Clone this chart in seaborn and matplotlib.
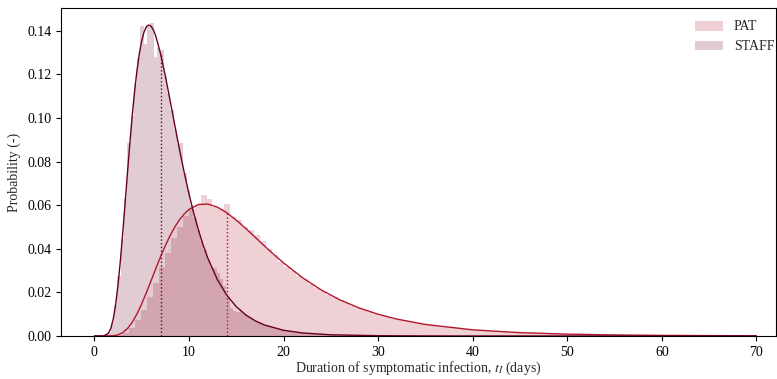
import numpy as np
import pandas as pd
import matplotlib
matplotlib.use("Agg")
import matplotlib.pyplot as plt
import seaborn as sns

# ---- data -------------------------------------------------------------
# PAT: normalised histogram of symptomatic-infection durations
pat_bin_start = 0.52
pat_bin_width = 0.63
pat_heights = [
    0.0, 0.0, 0.0001, 0.0006, 0.0016, 0.0037, 0.0073, 0.0120, 0.0180, 0.0243,
    0.0318, 0.0380, 0.0450, 0.0500, 0.0552, 0.0582, 0.0600, 0.0647, 0.0628, 0.0594,
    0.0585, 0.0606, 0.0547, 0.0532, 0.0502, 0.0486, 0.0463, 0.0435, 0.0400, 0.0372,
    0.0340, 0.0318, 0.0300, 0.0277, 0.0262, 0.0240, 0.0222, 0.0208, 0.0190, 0.0178,
    0.0163, 0.0152, 0.0139, 0.0130, 0.0119, 0.0111, 0.0101, 0.0094, 0.0087, 0.0080,
    0.0074, 0.0068, 0.0064, 0.0058, 0.0054, 0.0049, 0.0046, 0.0042, 0.0040, 0.0036,
    0.0034, 0.0031, 0.0029, 0.0027, 0.0025, 0.0023, 0.0021, 0.0019, 0.0018, 0.0016,
    0.0015, 0.0014, 0.0013, 0.0012, 0.0011, 0.0010, 0.0009, 0.0009, 0.0008, 0.0008,
    0.0007, 0.0006, 0.0006, 0.0005, 0.0005, 0.0005, 0.0004, 0.0004, 0.0004, 0.0003,
    0.0003, 0.0003, 0.0003, 0.0003, 0.0002, 0.0002, 0.0002, 0.0002, 0.0002, 0.0001,
]

# STAFF: normalised histogram of symptomatic-infection durations
staff_bin_start = 0.32
staff_bin_width = 0.35
staff_heights = [
    0.0, 0.0, 0.0003, 0.0015, 0.0060, 0.0140, 0.0275, 0.0445, 0.0630, 0.0884,
    0.1008, 0.1157, 0.1275, 0.1422, 0.1340, 0.1420, 0.1434, 0.1280, 0.1320, 0.1310,
    0.1195, 0.1117, 0.1038, 0.0950, 0.0879, 0.0885, 0.0750, 0.0670, 0.0600, 0.0542,
    0.0487, 0.0438, 0.0393, 0.0353, 0.0317, 0.0310, 0.0290, 0.0260, 0.0230, 0.0180,
    0.0130, 0.0115, 0.0110, 0.0113, 0.0101, 0.0090, 0.0081, 0.0072, 0.0064, 0.0057,
    0.0050, 0.0045, 0.0040, 0.0036, 0.0032, 0.0029, 0.0026, 0.0023, 0.0021, 0.0018,
    0.0016, 0.0015, 0.0013, 0.0012, 0.0011, 0.0010, 0.0009, 0.0008, 0.0007, 0.0006,
    0.0006, 0.0005, 0.0005, 0.0004, 0.0004, 0.0003, 0.0003, 0.0003, 0.0002, 0.0002,
    0.0002, 0.0002, 0.0002, 0.0001, 0.0001, 0.0001,
]

# fitted density curves (day, probability)
pat_curve_x = [0, 1, 2, 2.5, 3, 3.5, 4, 4.5, 5, 5.5, 6, 6.5, 7, 7.5, 8, 8.5, 9, 9.5,
               10, 11, 12, 13, 14, 15, 16, 17, 18, 19, 20, 22, 24, 26, 28, 30, 32,
               35, 40, 45, 50, 55, 60, 70]
pat_curve_y = [0.0, 0.0, 0.000125, 0.000545, 0.001561, 0.003429, 0.006279, 0.010083,
               0.014706, 0.019901, 0.025417, 0.030995, 0.036403, 0.041455, 0.046013,
               0.049988, 0.053326, 0.056011, 0.058053, 0.060334, 0.060543, 0.059133,
               0.056551, 0.053188, 0.049364, 0.045331, 0.041270, 0.037313, 0.033546,
               0.026769, 0.021104, 0.016510, 0.012856, 0.009986, 0.007750, 0.005302,
               0.002837, 0.001540, 0.000851, 0.000479, 0.000274, 0.000095]

staff_curve_x = [0, 0.5, 1, 1.5, 1.75, 2, 2.25, 2.5, 2.75, 3, 3.25, 3.5, 3.75, 4, 4.25,
                 4.5, 4.75, 5, 5.25, 5.5, 5.75, 6, 6.25, 6.5, 7, 7.5, 8, 8.5, 9, 9.5,
                 10, 10.5, 11, 11.5, 12, 13, 14, 15, 16, 17, 18, 20, 22, 25, 30, 35,
                 40, 50, 60, 70]
staff_curve_y = [0.0, 0.0, 0.00005, 0.001318, 0.003621, 0.007872, 0.014469, 0.023467,
                 0.034605, 0.047321, 0.060997, 0.074904, 0.088405, 0.100960, 0.112151,
                 0.121700, 0.129455, 0.135364, 0.139463, 0.141862, 0.142689, 0.142120,
                 0.140338, 0.137528, 0.129528, 0.119415, 0.108237, 0.096773, 0.085581,
                 0.075014, 0.065279, 0.056477, 0.048634, 0.041720, 0.035681, 0.025924,
                 0.018726, 0.013485, 0.009703, 0.006982, 0.005031, 0.002632, 0.001394,
                 0.000552, 0.000127, 0.00003, 0.0, 0.0, 0.0, 0.0]

pat_median = 14.0
staff_median = 7.0

groups = ["PAT", "STAFF"]
x_ticks = [0, 10, 20, 30, 40, 50, 60, 70]
y_ticks = [0.00, 0.02, 0.04, 0.06, 0.08, 0.10, 0.12, 0.14]

# ---- style ------------------------------------------------------------
sns.set_style("ticks")
plt.rcParams["font.family"] = ["Liberation Serif", "DejaVu Serif"]
plt.rcParams["mathtext.fontset"] = "stix"
plt.rcParams["font.size"] = 10

PAT_LINE = "#b2182b"
STAFF_LINE = "#67001f"

fig = plt.figure(figsize=(7.77, 3.79), dpi=100)
ax = fig.add_axes([61 / 777, 43 / 379, 715 / 777, 328 / 379])


def draw_group(heights, start, width, color, label):
    n = len(heights)
    edges = start + width * np.arange(n + 1)
    frame = pd.DataFrame({"day": edges[:-1] + width / 2, "prob": heights})
    sns.histplot(data=frame, x="day", weights="prob", bins=list(edges), stat="count",
                 color=color, alpha=0.2, linewidth=0, label=label, ax=ax)


draw_group(pat_heights, pat_bin_start, pat_bin_width, PAT_LINE, groups[0])
draw_group(staff_heights, staff_bin_start, staff_bin_width, STAFF_LINE, groups[1])

sns.lineplot(x=pat_curve_x, y=pat_curve_y, color=PAT_LINE, linewidth=1.0, ax=ax)
sns.lineplot(x=staff_curve_x, y=staff_curve_y, color=STAFF_LINE, linewidth=1.0, ax=ax)

# median markers reaching up to the fitted curve
ax.vlines(pat_median, 0, np.interp(pat_median, pat_curve_x, pat_curve_y),
          colors=PAT_LINE, linestyles=":", linewidth=1.0)
ax.vlines(staff_median, 0, np.interp(staff_median, staff_curve_x, staff_curve_y),
          colors=STAFF_LINE, linestyles=":", linewidth=1.0)

ax.set_xlim(-3.53, 72.08)
ax.set_ylim(0, 0.1505)
ax.set_xticks(x_ticks)
ax.set_yticks(y_ticks)
ax.set_yticklabels([f"{v:.2f}" for v in y_ticks])
ax.set_xlabel("Duration of symptomatic infection, $t_I$ (days)", fontsize=10, labelpad=1)
ax.set_ylabel("Probability (-)", fontsize=10)
ax.tick_params(labelsize=10, direction="out", length=3.5, width=0.8, colors="black")
for sp in ax.spines.values():
    sp.set_visible(True)
    sp.set_color("black")
    sp.set_linewidth(0.8)

ax.legend(loc="upper right", bbox_to_anchor=(1.015, 1.0), frameon=False, fontsize=10)

fig.savefig("out.png", dpi=100)
